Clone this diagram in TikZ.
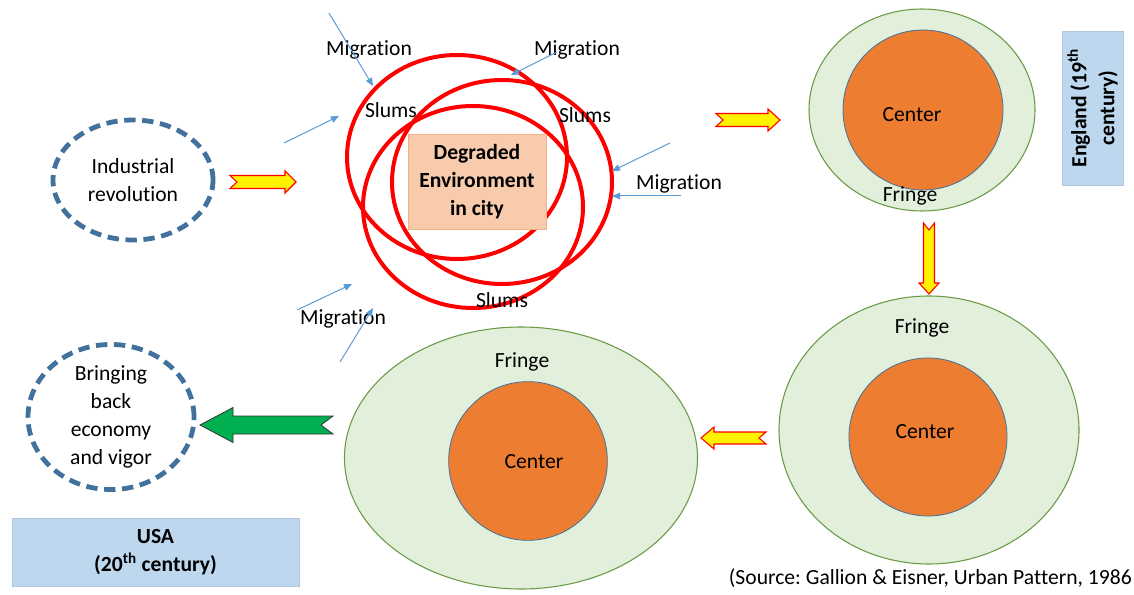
\documentclass[tikz,border=0pt]{standalone}
\usepackage{fontspec}
\setmainfont{Carlito}[Ligatures=CommonOff]
\frenchspacing
\usetikzlibrary{shapes.geometric,arrows.meta}
\definecolor{dashblue}{HTML}{41719C}
\definecolor{peach}{HTML}{F8CBAD}
\definecolor{peachline}{HTML}{F4B183}
\definecolor{boxblue}{HTML}{BDD7EE}
\definecolor{fringefill}{HTML}{E2EFDA}
\definecolor{fringeline}{HTML}{6A9A45}
\definecolor{centerfill}{HTML}{ED7D31}
\definecolor{migblue}{HTML}{5B9BD5}
\definecolor{greenarrow}{HTML}{00B050}
\tikzset{
  txt/.style={font=\fontsize{16.2}{21}\selectfont, align=center, inner sep=0pt},
  dashring/.style={ellipse, draw=dashblue, line width=3.6pt, dash pattern=on 8.5pt off 5pt, txt},
  redring/.style={draw=red, line width=3pt},
  fringe/.style={ellipse, draw=fringeline, fill=fringefill, line width=0.8pt},
  centre/.style={circle, draw=dashblue, fill=centerfill, line width=0.6pt, inner sep=0pt},
  infobox/.style={rectangle, fill=boxblue, draw=boxblue!80!gray, line width=0.4pt, txt, font=\fontsize{16.2}{21}\selectfont\bfseries},
  migarrow/.style={draw=migblue, line width=0.75pt, -{Triangle[length=6pt,width=5pt]}},
  yellowarrow/.style={fill=yellow, draw=red, line width=0.8pt},
  greenblock/.style={fill=greenarrow, draw=black!80, line width=0.6pt},
  pics/fatarrow/.style n args={5}{code={
    \path[pic actions] (0,-#2) -- (#1-#4,-#2) -- (#1-#4,-#3) -- (#1,0)
      -- (#1-#4,#3) -- (#1-#4,#2) -- (0,#2) -- (#5,0) -- cycle;
  }}
}
\begin{document}
\begin{tikzpicture}[x=0.75pt, y=-0.75pt]
  \useasboundingbox (0,0) rectangle (1134,595);

  \node[dashring, minimum width=120pt, minimum height=90pt] (indrev) at (133,180) {Industrial\\revolution};
  \node[dashring, minimum width=124.5pt, minimum height=106.5pt] (vigor) at (111,417) {Bringing\\back\\economy\\and vigor};

  \draw[redring] (457,157) ellipse [x radius=110, y radius=102];
  \draw[redring] (502,182) ellipse [x radius=110, y radius=102];
  \draw[redring] (473,207) ellipse [x radius=110, y radius=101];
  \node[rectangle, fill=peach, draw=peachline, line width=0.4pt, minimum width=103.5pt, minimum height=71.25pt,
    txt, font=\fontsize{16.2}{21}\selectfont\bfseries] (city) at (477,181.5) {Degraded\\Environment\\in city};

  \node[txt] (slumsA) at (391,110) {Slums};
  \node[txt] (slumsB) at (585,115) {Slums};
  \node[txt] (slumsC) at (502,300) {Slums};
  \node[txt] (migA) at (369,50) {Migration};
  \node[txt] (migB) at (577,50) {Migration};
  \node[txt] (migC) at (679,184) {Migration};
  \node[txt] (migD) at (343,319) {Migration};

  \foreach \i/\sx/\sy/\ex/\ey in {1/329/13/373/86, 2/284/143/339/116, 3/557/52/511/75, 4/670/143/612/171,
      5/681/196/612/196, 6/297/310/352/284, 7/340/362/373/308}{
    \coordinate (m\i s) at (\sx,\sy);
    \coordinate (m\i e) at (\ex,\ey);
    \draw[migarrow] (m\i s) -- (m\i e);
  }

  \node[fringe, minimum width=169.5pt, minimum height=151.5pt] (engF) at (922,110) {};
  \node[centre, minimum size=120pt] (engC) at (923,110) {};
  \node[txt] (engCtxt) at (912,115) {Center};
  \node[txt] (engFtxt) at (910,196) {Fringe};
  \node[infobox, rotate=90, minimum width=115.5pt, minimum height=45.75pt] (england) at (1092.5,108)
    {England (19\textsuperscript{th}\\century)};

  \node[fringe, minimum width=225pt, minimum height=201pt] (midF) at (929,430) {};
  \node[centre, minimum size=118.5pt] (midC) at (928,437) {};
  \node[txt] (midCtxt) at (925,432) {Center};
  \node[txt] (midFtxt) at (922,328) {Fringe};

  \node[fringe, minimum width=264.75pt, minimum height=196.5pt] (usaF) at (521,458) {};
  \node[centre, minimum size=119pt] (usaC) at (528,461) {};
  \node[txt] (usaCtxt) at (534,462) {Center};
  \node[txt] (usaFtxt) at (522,362) {Fringe};
  \node[infobox, minimum width=215.25pt, minimum height=51pt] (usa) at (155.5,552) {USA\\(20\textsuperscript{th} century)};

  \coordinate (arrA) at (230,182);
  \coordinate (arrB) at (716,120);
  \coordinate (arrC) at (929,223);
  \coordinate (arrD) at (766,438);
  \coordinate (arrE) at (333,425);
  \pic[yellowarrow] at (arrA) {fatarrow={66}{6.5}{11}{11}{7}};
  \pic[yellowarrow] at (arrB) {fatarrow={64}{6.5}{11}{12}{7}};
  \pic[yellowarrow, rotate=-90] at (arrC) {fatarrow={71}{5.5}{10}{11}{7}};
  \pic[yellowarrow, rotate=180] at (arrD) {fatarrow={65}{6}{11}{13}{7}};
  \pic[greenblock, rotate=180] at (arrE) {fatarrow={133}{9}{17.5}{33}{12}};

  \node[txt, anchor=east] (source) at (1132,578) {(Source: Gallion \& Eisner, Urban Pattern, 1986};
\end{tikzpicture}
\end{document}
